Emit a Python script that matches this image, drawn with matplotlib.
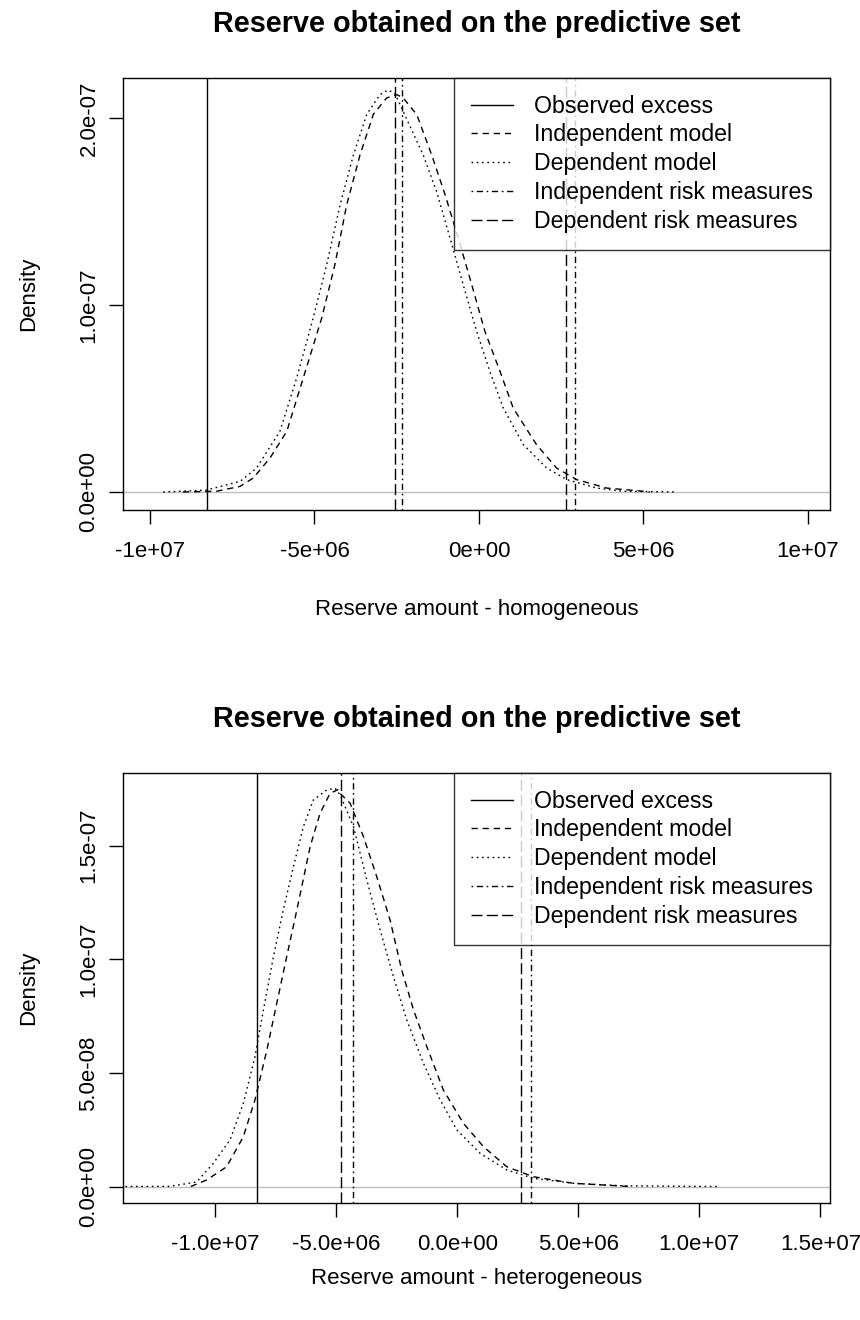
import matplotlib
matplotlib.use("Agg")
import matplotlib.pyplot as plt

plt.rcParams['font.family'] = ['Liberation Sans', 'DejaVu Sans']

# ---- homogeneous portfolio ----
hom_dep_x = [-9.6e6, -8.28e6, -7.26e6, -6.76e6, -6.05e6, -5.54e6, -5.04e6, -4.63e6,
             -4.22e6, -3.82e6, -3.41e6, -3.01e6, -2.76e6, -2.55e6, -1.69e6, -1.29e6,
             -0.88e6, -0.48e6, -0.07e6, 0.33e6, 0.74e6, 1.35e6, 2.06e6, 2.67e6,
             3.58e6, 4.39e6, 6.0e6]
hom_dep_y = [0.0, 0.01e-7, 0.057e-7, 0.128e-7, 0.325e-7, 0.61e-7, 0.93e-7, 1.215e-7,
             1.536e-7, 1.80e-7, 2.02e-7, 2.125e-7, 2.15e-7, 2.13e-7, 1.80e-7, 1.608e-7,
             1.358e-7, 1.109e-7, 0.859e-7, 0.645e-7, 0.449e-7, 0.253e-7, 0.128e-7, 0.066e-7,
             0.021e-7, 0.004e-7, 0.0]
hom_ind_x = [-9.0e6, -7.98e6, -7.26e6, -6.86e6, -6.35e6, -5.84e6, -5.34e6, -4.78e6,
             -4.38e6, -4.02e6, -3.62e6, -3.21e6, -2.81e6, -2.50e6, -2.30e6, -1.89e6,
             -1.44e6, -1.03e6, -0.63e6, -0.22e6, 0.18e6, 0.64e6, 1.04e6, 1.75e6,
             2.36e6, 2.97e6, 3.88e6, 5.0e6, 5.2e6]
hom_ind_y = [0.0, 0.004e-7, 0.03e-7, 0.075e-7, 0.182e-7, 0.325e-7, 0.61e-7, 0.93e-7,
             1.215e-7, 1.536e-7, 1.80e-7, 2.02e-7, 2.107e-7, 2.125e-7, 2.107e-7, 2.018e-7,
             1.804e-7, 1.59e-7, 1.358e-7, 1.109e-7, 0.859e-7, 0.645e-7, 0.449e-7, 0.253e-7,
             0.128e-7, 0.066e-7, 0.021e-7, 0.004e-7, 0.0]
hom_observed = -8.27e6
hom_ind_risk = [-2.34e6, 2.92e6]
hom_dep_risk = [-2.55e6, 2.64e6]
hom_xticks = [-1e7, -5e6, 0, 5e6, 1e7]
hom_xlabels = ["-1e+07", "-5e+06", "0e+00", "5e+06", "1e+07"]
hom_yticks = [0, 1e-7, 2e-7]
hom_ylabels = ["0.0e+00", "1.0e-07", "2.0e-07"]

# ---- heterogeneous portfolio ----
het_dep_x = [-1.37e7, -1.186e7, -1.076e7, -1.007e7, -9.38e6, -8.83e6, -8.35e6, -8.0e6,
             -7.59e6, -7.18e6, -6.76e6, -6.35e6, -5.94e6, -5.39e6, -5.04e6, -4.83e6,
             -4.28e6, -3.73e6, -3.18e6, -2.63e6, -2.08e6, -1.39e6, -0.70e6, -0.01e6,
             0.95e6, 2.05e6, 3.15e6, 4.81e6, 6.87e6, 1.08e7]
het_dep_y = [0.0, 0.007e-8, 0.2e-8, 1.02e-8, 2.05e-8, 3.66e-8, 5.71e-8, 7.77e-8,
             10.1e-8, 12.17e-8, 14.08e-8, 15.84e-8, 17.01e-8, 17.45e-8, 17.53e-8, 17.23e-8,
             15.84e-8, 13.49e-8, 11.29e-8, 9.23e-8, 7.33e-8, 5.42e-8, 3.81e-8, 2.49e-8,
             1.46e-8, 0.73e-8, 0.36e-8, 0.14e-8, 0.03e-8, 0.0]
het_ind_x = [-1.10e7, -1.034e7, -9.52e6, -8.83e6, -8.35e6, -7.86e6, -7.45e6, -7.04e6,
             -6.62e6, -6.07e6, -5.66e6, -5.25e6, -4.9e6, -4.83e6, -4.42e6, -3.87e6,
             -3.32e6, -2.77e6, -2.29e6, -1.80e6, -1.25e6, -0.57e6, 0.26e6, 1.09e6,
             2.05e6, 3.15e6, 4.81e6, 7.15e6]
het_ind_y = [0.0, 0.29e-8, 0.87e-8, 2.19e-8, 3.81e-8, 6.0e-8, 8.06e-8, 10.11e-8,
             12.17e-8, 14.96e-8, 16.43e-8, 17.3e-8, 17.48e-8, 17.3e-8, 16.87e-8, 15.40e-8,
             13.64e-8, 11.73e-8, 9.53e-8, 7.77e-8, 6.15e-8, 4.25e-8, 2.78e-8, 1.75e-8,
             0.87e-8, 0.43e-8, 0.14e-8, 0.0]
het_observed = -8.26e6
het_ind_risk = [-4.31e6, 3.06e6]
het_dep_risk = [-4.79e6, 2.64e6]
het_xticks = [-1e7, -5e6, 0, 5e6, 1e7, 1.5e7]
het_xlabels = ["-1.0e+07", "-5.0e+06", "0.0e+00", "5.0e+06", "1.0e+07", "1.5e+07"]
het_yticks = [0, 5e-8, 1e-7, 1.5e-7]
het_ylabels = ["0.0e+00", "5.0e-08", "1.0e-07", "1.5e-07"]

legend_labels = ["Observed excess", "Independent model", "Dependent model",
                 "Independent risk measures", "Dependent risk measures"]

# R lty equivalents
DASHED = (0, (4.5, 3.5))
DOTTED = (0, (1.2, 2.6))
DOTDASH = (0, (1.2, 2.6, 4.5, 2.6))
LONGDASH = (0, (8, 3))

fs = 16


def panel(ax, dep_x, dep_y, ind_x, ind_y, observed, ind_risk, dep_risk,
          xticks, xlabels, yticks, ylabels, xlim, ylim, xlab, xlabpad):
    ax.axhline(0, color='#bebebe', lw=1)
    ax.plot(dep_x, dep_y, color='black', lw=1, linestyle=DOTTED)
    ax.plot(ind_x, ind_y, color='black', lw=1, linestyle=DASHED)
    ax.axvline(observed, color='black', lw=1)
    for v in ind_risk:
        ax.axvline(v, color='black', lw=1, linestyle=DOTDASH)
    for v in dep_risk:
        ax.axvline(v, color='black', lw=1, linestyle=LONGDASH)
    ax.set_xlim(xlim)
    ax.set_ylim(ylim)
    ax.set_xticks(xticks)
    ax.set_xticklabels(xlabels, fontsize=fs)
    ax.set_yticks(yticks)
    ax.set_yticklabels(ylabels, fontsize=fs, rotation=90, va='center')
    ax.tick_params(axis='x', direction='out', length=10, width=1, pad=12)
    ax.tick_params(axis='y', direction='out', length=10, width=1, pad=7)
    for s in ax.spines.values():
        s.set_linewidth(1)
    ax.set_xlabel(xlab, fontsize=fs, labelpad=xlabpad)
    ax.set_ylabel("Density", fontsize=fs, labelpad=28)
    ax.set_title("Reserve obtained on the predictive set", fontsize=20.7,
                 fontweight='bold', pad=33)
    handles = [
        plt.Line2D([], [], color='black', lw=1),
        plt.Line2D([], [], color='black', lw=1, linestyle=DASHED),
        plt.Line2D([], [], color='black', lw=1, linestyle=DOTTED),
        plt.Line2D([], [], color='black', lw=1, linestyle=DOTDASH),
        plt.Line2D([], [], color='black', lw=1, linestyle=LONGDASH),
    ]
    leg = ax.legend(handles, legend_labels, loc='upper right', fontsize=16.7,
                    frameon=True, fancybox=False, borderaxespad=0,
                    handlelength=1.85, handletextpad=0.9, labelspacing=0.25,
                    borderpad=0.72)
    leg.get_frame().set_edgecolor('black')
    leg.get_frame().set_linewidth(1)


fig = plt.figure(figsize=(8.6, 13.2), dpi=100)
ax1 = fig.add_axes([123 / 860, 1 - 510 / 1320, 707 / 860, 432 / 1320])
ax2 = fig.add_axes([123 / 860, 1 - 1203 / 1320, 707 / 860, 430 / 1320])

panel(ax1, hom_dep_x, hom_dep_y, hom_ind_x, hom_ind_y, hom_observed,
      hom_ind_risk, hom_dep_risk, hom_xticks, hom_xlabels, hom_yticks, hom_ylabels,
      (-1.082e7, 1.067e7), (-0.0963e-7, 2.214e-7), "Reserve amount - homogeneous", 27)
panel(ax2, het_dep_x, het_dep_y, het_ind_x, het_ind_y, het_observed,
      het_ind_risk, het_dep_risk, het_xticks, het_xlabels, het_yticks, het_ylabels,
      (-1.38e7, 1.54e7), (-0.726e-8, 18.2e-8), "Reserve amount - heterogeneous", 10)

fig.savefig("out.png", dpi=100)
